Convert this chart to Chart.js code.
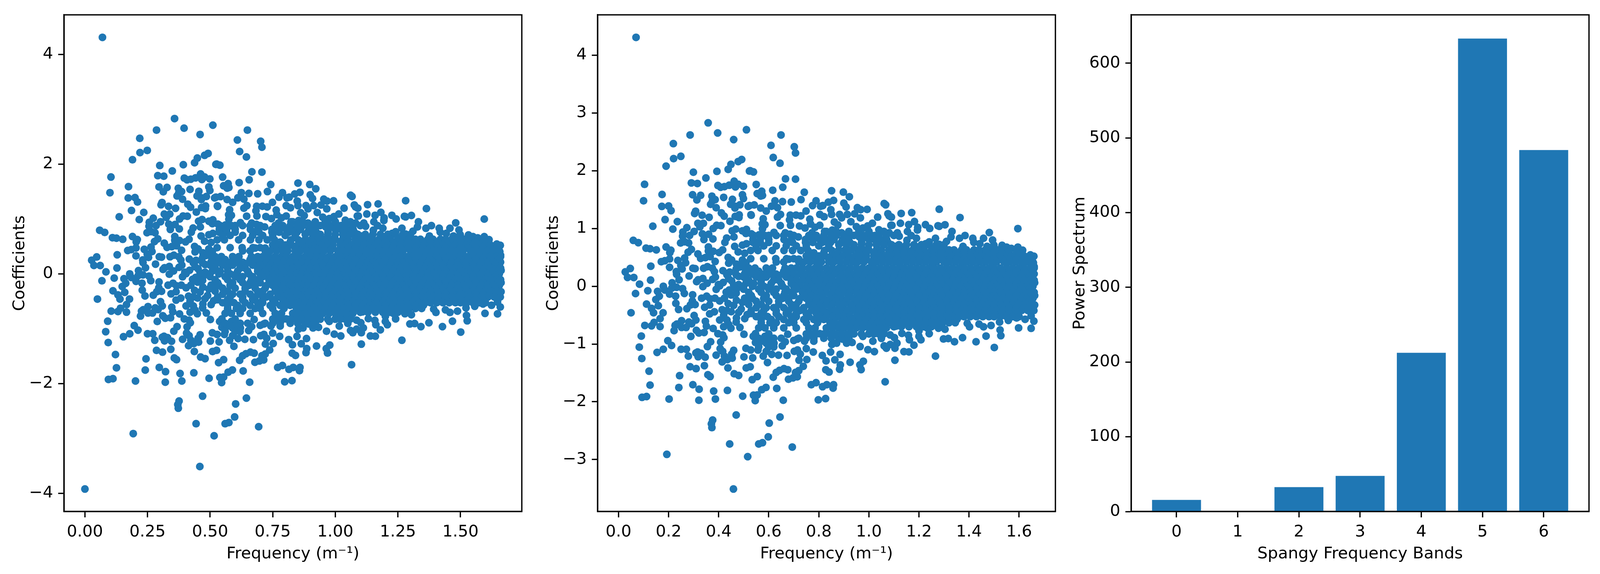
<!DOCTYPE html>
<html>
<head>
<meta charset="utf-8">
<title>Spangy spectrum</title>
<script src="https://cdn.jsdelivr.net/npm/chart.js@4/dist/chart.umd.min.js"></script>
<style>
  html, body { margin: 0; padding: 0; background: #fff; overflow: hidden; }
  canvas { position: absolute; top: 0; }
</style>
</head>
<body>
<canvas id="scatterA"></canvas>
<canvas id="scatterB"></canvas>
<canvas id="bands"></canvas>
<script>
// points that can be told apart in the picture: [frequency, coefficient]
const lowestPoint = [0, -3.92];
const sparsePoints = [
  [.07,4.31],[.459,-3.51],[.193,-2.91],[.516,-2.95],
  [.358,2.83],[.396,2.655],[.511,2.71],[.286,2.62],[.46,2.54],[.219,2.47],[.249,2.25],[.22,2.21],[.19,2.08],
  [.492,2.195],[.478,2.16],[.449,2.11],[.438,2.025],[.299,1.975],[.393,1.99],[.523,1.995],[.349,1.875],
  [.291,1.79],[.315,1.78],[.104,1.765],[.397,1.745],[.408,1.715],[.423,1.725],[.442,1.75],[.462,1.82],
  [.467,1.72],[.478,1.765],[.499,1.73],[.174,1.59],[.1,1.48],[.296,1.585],[.328,1.575],[.313,1.495],
  [.373,1.56],[.386,1.5],[.375,1.48],[.368,1.42],[.39,1.36],[.42,1.54],[.455,1.505],[.495,1.585],[.499,1.52],
  [.448,1.42],[.466,1.385],[.485,1.41],[.465,1.355],[.518,1.385],[.173,1.383],[.2,1.39],[.21,1.31],[.308,1.3],
  [.304,1.26],[.334,1.23],[.362,1.195],[.411,1.27],[.422,1.215],[.482,1.237],[.466,1.21],[.481,1.19],
  [.445,1.125],[.53,1.23],[.186,1.155],[.235,1.12],[.137,1.04],[.217,.99],[.317,1.09],[.339,1.09],[.325,1.03],
  [.378,1],[.392,1.055],[.409,1.05],[.273,1.015],[.257,.94],[.302,.95],[.284,.88],[.256,.867],[.335,.907],
  [.36,.9],[.341,.81],[.377,.82],[.454,.96],[.468,.99],[.495,.96],[.511,.985],[.461,.855],[.432,.835],[.425,.76],
  [.509,.915],[.059,.795],[.079,.755],[.11,.66],[.126,.65],[.151,.63],[.19,.68],[.209,.625],[.205,.583],
  [.248,.75],[.28,.75],[.264,.77],[.291,.638],[.278,.59],[.317,.56],[.359,.68],[.359,.61],[.378,.607],[.402,.584],
  [.416,.63],[.328,.483],[.347,.497],[.366,.513],[.386,.43],[.438,.5],[.464,.69],[.478,.595],[.495,.713],[.511,.737],
  [.452,.454],[.471,.383],[.495,.454],[.504,.572],[.204,.473],[.185,.442],[.171,.426],[.204,.329],[.237,.447],
  [.264,.489],[.268,.407],[.249,.36],[.254,.3],[.231,.254],[.232,.207],[.242,.112],[.282,.178],[.297,.312],
  [.306,.305],[.34,.312],[.355,.34],[.375,.312],[.383,.254],[.387,.16],[.376,.12],[.417,.27],[.444,.246],[.433,.2],
  [.452,.093],[.129,.348],[.128,.107],[.047,.308],[.027,.249],[.036,.154],[.061,.152],[.084,.037],[.179,0],
  [.214,.06],[.312,.081],[.337,.135],[.318,.112],[.354,.053],[.418,.065],[.399,.03],[.485,.336],[.504,.218],
  [.48,.171],[.509,.053],[.48,.03],[.509,.407],
  [.068,-.126],[.117,-.077],[.05,-.459],[.156,-.088],[.185,-.065],[.204,-.136],[.228,-.171],[.263,-.124],[.149,-.23],
  [.163,-.171],[.112,-.308],[.132,-.383],[.14,-.459],[.159,-.336],[.178,-.459],[.166,-.56],[.142,-.626],[.105,-.678],
  [.132,-.685],[.166,-.697],[.229,-.296],[.24,-.402],[.273,-.388],[.296,-.147],[.295,-.254],[.306,-.317],[.287,-.324],
  [.332,-.206],[.352,-.171],[.366,-.218],[.364,-.324],[.344,-.364],[.364,-.478],[.383,-.442],[.302,-.506],[.309,-.584],
  [.292,-.65],[.281,-.62],[.252,-.596],[.233,-.654],[.226,-.678],[.222,-.768],[.252,-.713],[.27,-.713],[.347,-.607],
  [.351,-.69],[.378,-.73],[.311,-.763],[.321,-.808],[.342,-.8],[.289,-.867],[.397,-.82],[.416,-.843],[.421,-.89],
  [.408,-.966],[.368,-.961],[.355,-1.044],[.406,-1.079],[.416,-1.126],[.39,-1.192],[.423,-1.209],[.435,-1.268],
  [.414,-1.308],[.454,-1.244],[.452,-1.174],[.46,-1.11],[.509,-1.074],[.501,-1.223],[.51,-1.414],[.437,-1.414],
  [.462,-1.515],[.48,-1.544],[.197,-.942],[.212,-1.025],[.179,-1.091],[.154,-1.145],[.091,-.862],[.083,-1.053],
  [.093,-1.251],[.122,-1.47],[.126,-1.711],[.094,-1.923],[.112,-1.909],[.202,-1.952],[.241,-1.753],[.244,-1.548],
  [.25,-1.091],[.271,-1.091],[.279,-1.209],[.309,-1.155],[.316,-1.138],[.33,-1.162],[.318,-1.22],[.346,-1.228],
  [.343,-1.374],[.286,-1.393],[.31,-1.426],[.357,-1.532],[.366,-1.563],[.297,-1.704],[.322,-1.782],[.321,-1.973],
  [.38,-1.815],[.387,-1.952],[.435,-1.803],[.496,-1.902],[.47,-2.228],[.376,-2.317],[.371,-2.381],[.373,-2.447],
  [.444,-2.73],[.385,-.206],[.404,-.254],[.423,-.206],[.438,-.3],[.433,-.419],[.414,-.407],[.404,-.584],[.433,-.584],
  [.449,-.725],[.471,-.242],[.495,-.277],[.49,-.395],[.471,-.548],[.504,-.206],[.504,-.56],[.485,-.713],[.501,-.831],
  [.514,-.49],[.337,-.006],[.39,-.053],[.442,-.065],[.471,-.053],[.499,-.006],[.404,.006],[.232,-.018],[.256,-.041],[.213,-.03],
  [.649,2.62],[.609,2.44],[.702,2.416],[.707,2.308],[.618,2.23],[.645,2.13],[.526,2],[.539,1.98],[.667,1.86],[.707,1.855],
  [.55,1.763],[.656,1.715],[.616,1.663],[.572,1.645],[.554,1.605],[.575,1.574],[.568,1.563],[.742,1.628],[.729,1.5],
  [.851,1.654],[.898,1.63],[.922,1.55],[.625,1.48],[.655,1.466],[.69,1.459],[.789,1.48],[.775,1.397],[.807,1.386],
  [.816,1.397],[.838,1.456],[.859,1.487],[.9,1.44],[.909,1.374],[.954,1.362],[.967,1.327],[.993,1.331],[1.061,1.433],
  [1.067,1.41],[1.076,1.256],[1.081,1.22],[1.035,1.197],[.542,1.409],[.523,1.397],[.568,1.355],[.59,1.303],[.611,1.386],
  [.635,1.362],[.647,1.244],[.635,1.197],[.529,1.239],[.578,1.169],[.574,1.079],[.585,1.067],[.575,.996],[.646,1.051],
  [.687,1.055],[.686,1.232],[.683,1.15],[.709,1.232],[.728,1.22],[.749,1.303],[.764,1.162],[.723,1.044],[.745,1.008],
  [.767,1.079],[.804,1.244],[.821,1.204],[.848,1.327],[.851,1.244],[.862,1.114],[.876,1.062],[.883,1.244],[.891,1.185],
  [.914,1.244],[.943,1.256],[.966,1.185],[.928,1.119],[1.014,1.091],[.95,1.032],[.976,1.008],[.995,1.044],[1.04,.978],
  [1.088,1.055],[.854,.973],[.823,.949],[.804,1.055],[.785,1.02],[.621,.933],[.531,.907],[.561,.89],[.585,.879],[.666,.926],
  [.685,.902],[.718,.855],[.773,.926],[.891,.926],[.914,.902],[.962,.855],[1.024,.879],[1.066,.807],[1.081,.926],
  [.537,.76],[.566,.76],[.6,.76],[.676,.76],[.695,.76],[.747,.76],[.776,.76],[.814,.76],[.847,.76],[.89,.76],[.924,.76],
  [.971,.76],[1.043,.76],[1.076,.76],[.528,.62],[.557,.62],[.614,.62],[.661,.62],[.695,.62],[.728,.62],[.757,.62],
  [.823,.62],[.852,.62],[.528,.478],[.58,.478],[.628,.478],[.671,.478],[.7,.478],
  [.537,.81],[.566,.81],[.6,.81],[.661,.81],[.69,.81],[.747,.81],[.776,.81],[.804,.81],[.828,.81],[.861,.81],[.895,.81],
  [.919,.81],[.971,.81],[1,.81],[1.023,.81],[1.047,.81],[1.071,.81],
  [.595,-1.32],[.526,-1.393],[.536,-1.239],[.554,-1.563],[.534,-1.617],[.589,-1.751],[.572,-1.791],[.632,-1.768],
  [.554,-1.881],[.539,-1.886],[.546,-1.98],[.658,-1.973],[.645,-2.263],[.602,-2.369],[.598,-2.607],[.575,-2.709],
  [.56,-2.73],[.694,-2.784],[.618,-1.574],[.63,-1.492],[.643,-1.456],[.661,-1.426],[.676,-1.445],[.679,-1.61],[.697,-1.586],
  [.714,-1.567],[.707,-1.492],[.72,-1.461],[.738,-1.386],[.721,-1.279],[.752,-1.268],[.726,-1.174],[.702,-1.126],
  [.715,-1.103],[.673,-1.197],[.639,-1.192],[.612,-1.178],[.578,-1.209],[.75,-1.079],[.778,-1.138],[.814,-1.197],
  [.829,-1.292],[.864,-1.273],[.885,-1.178],[.847,-1.138],[.852,-1.008],[.871,-.985],[.886,-1.362],[.883,-1.435],
  [.828,-1.445],[.841,-1.485],[.925,-1.315],[.978,-1.298],[.964,-1.362],[.969,-1.442],[1.065,-1.654],[.77,-1.704],
  [.789,-1.669],[.815,-1.739],[.832,-1.704],[.859,-1.704],[.857,-1.763],[.798,-1.966],[.827,-1.945],[.911,-.985],
  [.933,-.973],[.965,-1.044],[.996,-1.098],[1.022,-1.131],[1.016,-.95],[1.05,-.902],[1.061,-1.032],[1.07,-1.072],
  [1.085,-1.008],[.743,-.95],[.78,-.95],[.7,-.938],[.714,-.914],[.654,-1.032],[.666,-.961],[.538,-.867],[.547,-.973],
  [.566,-.961],[.59,-.985],[.621,-.985],[.528,-1.103],[.557,-1.103],[.59,-1.126],[.547,-.82],[.585,-.867],[.609,-.926],
  [.676,-.831],[.895,-.914],[.828,-.82],[.852,-.843],[.804,-.82],[.761,-.843],[.923,-.843],[.976,-.867],[1,-.82],
  [1.038,-.82],[1.061,-.82],[1.085,-.843],
  [1.281,1.334],[1.364,1.19],[1.129,1.261],[1.171,1.275],[1.595,.999],[1.126,1.091],[1.09,1.197],[1.092,1.055],
  [1.159,1.067],[1.182,1.121],[1.195,1.02],[1.194,.973],[1.226,1.067],[1.243,1.001],[1.276,1.048],[1.281,1.039],
  [1.304,1.065],[1.332,.949],[1.328,.855],[1.31,.777],[1.362,.831],[1.384,.879],[1.415,.831],[1.419,.761],[1.458,.831],
  [1.481,.93],[1.494,.8],[1.499,.714],[1.532,.709],[1.55,.678],[1.569,.655],[1.595,.678],[1.614,.624],[1.543,.619],
  [1.645,.544],[1.659,.52],[1.657,.407],[1.66,.341],[1.66,.214],[1.662,.062],[1.114,.926],[1.121,.867],[1.154,.949],
  [1.169,.879],[1.19,.831],[1.152,.796],[1.241,.768],[1.227,.737],[1.266,.831],[1.281,.725],[1.257,.643],[1.376,.69],
  [1.388,.607],[1.419,.619],[1.443,.737],[1.472,.69],[1.105,.69],[1.138,.643],[1.186,.69],[1.219,.667],
  [1.266,-1.209],[1.104,-1.28],[1.14,-1.131],[1.16,-1.136],[1.18,-1.02],[1.162,-.926],[1.158,-.848],[1.132,-.815],
  [1.208,-.926],[1.241,-.82],[1.102,-.89],[1.112,-.985],[1.104,-1.072],[1.278,-.725],[1.304,-.744],[1.298,-.912],
  [1.317,-.905],[1.342,-.961],[1.374,-.89],[1.428,-.961],[1.468,-.862],[1.501,-1.06],[1.527,-.855],[1.524,-.756],
  [1.598,-.72],[1.648,-.728],[1.659,-.603],[1.557,-.59],[1.59,-.548],[1.624,-.572],[1.402,-.702],[1.393,-.643],
  [1.458,-.702],[1.44,-.655],[1.488,-.678],[1.522,-.619],[1.352,-.572],[1.328,-.584],[1.109,-.69],[1.162,-.678],
  [1.2,-.772],[1.2,-.867],[1.234,-.725],[1.648,-.513],[1.662,-.324],[1.662,-.16],[1.659,-.42],
  // softer edges round the core
  [.87,.88],[.9,.88],[.94,.88],[.98,.88],[1.01,.88],[1.04,.88],[1.07,.88],[1.1,.88],
  [.83,.95],[.87,.95],[.92,.95],[.96,.95],[1,.95],[1.06,.95],
  [.54,.88],[.58,.88],[.6,.88],[.63,.88],[.66,.88],[.7,.88],[.76,.88],[.79,.88],[.82,.88],[.85,.88],
  [.55,.7],[.58,.7],[.63,.7],[.67,.7],[.71,.7],[.75,.7],[.8,.7],[.84,.7],
  [.97,-.825],[1,-.825],[1.02,-.825],[1.05,-.825],
  [.56,-.9],[.58,-.9],[.62,-.9],[.65,-.9],[.72,-.9],[.75,-.9],[.78,-.9],[.82,-.9],[.85,-.9],[.88,-.9],[.92,-.9],
  [.56,-1.05],[.6,-1.05],[.62,-1.05],
  [1.1,-.7],[1.13,-.7],[1.16,-.7],[1.19,-.7],[1.22,-.7],[1.25,-.7],[1.28,-.7],
  [.44,.4],[.47,.3],[.5,.33],[.44,.13],[.47,.2],[.43,-.1],[.46,.02],[.45,-.15],[.47,-.12],[.46,-.33],[.42,-.5],[.45,-.44],
  [.47,-.62],[.44,-.66],[.48,-.45],[.42,-.7]
];

// the dense core cannot be resolved into single points in the picture,
// so these are placed by eye, row by row, to cover the same solid area
const coreCoefs = [.72, .63, .58, .525, .47, .42, .315, .26, .21, .16, .105, .05, 0, -.05, -.105, -.16, -.21, -.26, -.315, -.37, -.42, -.47, -.525, -.575, -.63, -.72, -.825];
const coreFreqs = [
  [.88,.91,.94,.97,1,1.03,1.06,1.09,1.12,1.15,1.18,1.21,1.24,1.27,1.3],
  [.88,.905,.93,.955,.98,1,1.03,1.05,1.08,1.1,1.125,1.15,1.175,1.2,1.22,1.25,1.27,1.295,1.32,1.34,1.37,1.39,1.42,1.44,1.465,1.49,1.515,1.54],
  [.78,.82,.87,.91,.96,.99,1.02,1.05,1.08,1.11,1.14,1.17,1.2,1.23,1.26,1.29,1.32,1.35,1.38,1.41,1.44,1.47,1.5,1.53,1.56,1.59],
  [.75,.775,.8,.825,.85,.87,.895,.92,.945,.97,.99,1.02,1.04,1.065,1.09,1.115,1.14,1.16,1.19,1.21,1.235,1.26,1.285,1.31,1.33,1.355,1.38,1.405,1.43,1.45,1.48,1.5,1.525,1.55,1.57,1.6,1.62],
  [.68,.72,.76,.8,.84,.88,.92,.96,.99,1.02,1.05,1.08,1.11,1.14,1.17,1.2,1.23,1.26,1.29,1.32,1.35,1.38,1.41,1.44,1.47,1.5,1.53,1.56,1.59,1.62,1.645],
  [.63,.66,.72,.74,.765,.79,.81,.84,.86,.885,.91,.935,.955,.98,1.01,1.03,1.055,1.08,1.105,1.125,1.15,1.175,1.2,1.225,1.25,1.27,1.3,1.32,1.345,1.37,1.39,1.415,1.44,1.465,1.49,1.51,1.54,1.56,1.585,1.61,1.63,1.655],
  [.52,.545,.59,.615,.665,.69,.71,.735,.76,.785,.805,.83,.855,.88,.9,.925,.95,.975,1,1.02,1.045,1.07,1.095,1.12,1.14,1.165,1.19,1.215,1.24,1.26,1.285,1.31,1.335,1.36,1.38,1.405,1.43,1.455,1.48,1.5,1.525,1.55,1.575,1.6,1.62,1.645,1.66],
  [.53,.56,.6,.66,.69,.73,.77,.8,.84,.88,.92,.96,.99,1.02,1.05,1.08,1.11,1.14,1.17,1.2,1.23,1.26,1.29,1.32,1.35,1.38,1.41,1.44,1.47,1.5,1.53,1.56,1.59,1.62,1.65],
  [.51,.535,.56,.58,.605,.63,.655,.68,.7,.725,.75,.77,.795,.82,.845,.865,.89,.915,.94,.96,.985,1.01,1.035,1.055,1.08,1.105,1.13,1.15,1.175,1.2,1.225,1.25,1.27,1.295,1.32,1.345,1.37,1.39,1.415,1.44,1.465,1.49,1.51,1.535,1.56,1.585,1.61,1.63,1.655],
  [.5,.55,.59,.63,.67,.7,.74,.78,.82,.85,.89,.92,.95,.98,1.01,1.04,1.07,1.1,1.13,1.16,1.19,1.22,1.25,1.28,1.31,1.34,1.37,1.4,1.43,1.46,1.49,1.52,1.55,1.58,1.61,1.64],
  [.52,.57,.62,.64,.69,.71,.735,.76,.785,.805,.83,.855,.88,.9,.925,.95,.975,1,1.02,1.045,1.07,1.095,1.12,1.14,1.165,1.19,1.215,1.24,1.26,1.285,1.31,1.335,1.36,1.38,1.405,1.43,1.455,1.48,1.5,1.525,1.55,1.575,1.6,1.62,1.645,1.66],
  [.54,.57,.61,.65,.69,.72,.76,.79,.83,.87,.9,.93,.96,.99,1.02,1.05,1.08,1.11,1.14,1.17,1.2,1.23,1.26,1.29,1.32,1.35,1.38,1.41,1.44,1.47,1.5,1.53,1.56,1.59,1.62,1.65],
  [.535,.58,.605,.655,.7,.725,.75,.77,.795,.82,.845,.865,.89,.915,.94,.96,.985,1.01,1.035,1.055,1.08,1.105,1.13,1.15,1.175,1.2,1.225,1.25,1.27,1.295,1.32,1.345,1.37,1.39,1.415,1.44,1.465,1.49,1.51,1.535,1.56,1.585,1.61,1.63,1.655],
  [.5,.56,.6,.63,.67,.71,.75,.78,.82,.86,.89,.92,.95,.98,1.01,1.04,1.07,1.1,1.13,1.16,1.19,1.22,1.25,1.28,1.31,1.34,1.37,1.4,1.43,1.46,1.49,1.52,1.55,1.58,1.61,1.64],
  [.52,.57,.62,.665,.69,.735,.76,.785,.805,.83,.855,.88,.9,.925,.95,.975,1,1.02,1.045,1.07,1.095,1.12,1.14,1.165,1.19,1.215,1.24,1.26,1.285,1.31,1.335,1.36,1.38,1.405,1.43,1.455,1.48,1.5,1.525,1.55,1.575,1.6,1.62,1.645,1.66],
  [.53,.59,.63,.66,.7,.74,.77,.81,.85,.88,.92,.96,.99,1.02,1.05,1.08,1.11,1.14,1.17,1.2,1.23,1.26,1.29,1.32,1.35,1.38,1.41,1.44,1.47,1.5,1.53,1.56,1.59,1.62,1.65],
  [.535,.58,.655,.68,.725,.75,.77,.795,.82,.845,.865,.89,.915,.94,.96,.985,1.01,1.035,1.055,1.08,1.105,1.13,1.15,1.175,1.2,1.225,1.25,1.27,1.295,1.32,1.345,1.37,1.39,1.415,1.44,1.465,1.49,1.51,1.535,1.56,1.585,1.61,1.63,1.655],
  [.51,.55,.6,.64,.68,.72,.76,.79,.83,.87,.91,.95,.98,1.01,1.04,1.07,1.1,1.13,1.16,1.19,1.22,1.25,1.28,1.31,1.34,1.37,1.4,1.43,1.46,1.49,1.52,1.55,1.58,1.61,1.64],
  [.52,.57,.64,.69,.71,.76,.785,.805,.83,.855,.88,.9,.925,.95,.975,1,1.02,1.045,1.07,1.095,1.12,1.14,1.165,1.19,1.215,1.24,1.26,1.285,1.31,1.335,1.36,1.38,1.405,1.43,1.455,1.48,1.5,1.525,1.55,1.575,1.6,1.62,1.645],
  [.55,.59,.62,.66,.7,.74,.78,.81,.85,.89,.93,.96,.99,1.02,1.05,1.08,1.11,1.14,1.17,1.2,1.23,1.26,1.29,1.32,1.35,1.38,1.41,1.44,1.47,1.5,1.53,1.56,1.59,1.62],
  [.53,.58,.63,.68,.725,.77,.795,.82,.845,.865,.89,.915,.94,.96,.985,1.01,1.035,1.055,1.08,1.105,1.13,1.15,1.175,1.2,1.225,1.25,1.27,1.295,1.32,1.345,1.37,1.39,1.415,1.44,1.465,1.49,1.51,1.535,1.56,1.585,1.61,1.635],
  [.53,.57,.63,.67,.71,.75,.79,.83,.87,.91,.96,.99,1.02,1.05,1.08,1.11,1.14,1.17,1.2,1.23,1.26,1.29,1.32,1.35,1.38,1.41,1.44,1.47,1.5,1.53,1.56,1.59],
  [.55,.595,.64,.69,.71,.76,.805,.83,.855,.88,.9,.925,.95,.975,1,1.02,1.045,1.07,1.095,1.12,1.14,1.165,1.19,1.215,1.24,1.26,1.285,1.31,1.335,1.36,1.38,1.405,1.43,1.455,1.48,1.5,1.525,1.55,1.575,1.6],
  [.57,.61,.66,.7,.74,.78,.82,.86,.9,.93,.96,.99,1.02,1.05,1.08,1.11,1.14,1.17,1.2,1.23,1.26,1.29,1.32],
  [.57,.605,.63,.68,.7,.75,.795,.845,.865,.89,.915,.94,.96,.985,1.01,1.035,1.055,1.08,1.105,1.13,1.15,1.175,1.2,1.225,1.25,1.27,1.295,1.32,1.345],
  [.56,.585,.62,.66,.71,.76,.785,.83,.855,.88,.9,.925,.95,.975,1,1.02,1.045,1.07],
  [.6,.75,.775,.79,.82,.845,.865,.89,.915,.94]
];

const powerBands = [0, 1, 2, 3, 4, 5, 6];
const powerValues = [15.6, 0, 32.6, 47.7, 212.4, 633, 483.7];

const BLUE = '#1f77b4';
const FONT = { family: 'DejaVu Sans', size: 41.67 };

// the layout was measured on a 4470 wide picture, shrink it if the window is narrower
const fit = Math.min(1, window.innerWidth / 4470);

function toXY(pair) {
    return { x: pair[0], y: pair[1] };
}

function buildPoints() {
    const points = sparsePoints.map(toXY);
    coreFreqs.forEach(function (row, i) {
        row.forEach(function (freq) {
            points.push({ x: freq, y: coreCoefs[i] });
        });
    });
    return points;
}

// minus sign like the original tick labels
function tickText(value, decimals) {
    const text = Math.abs(value).toFixed(decimals);
    return value < 0 ? '\u2212' + text : text;
}

// top and right spines
const frame = {
    id: 'frame',
    afterDraw(chart) {
        const a = chart.chartArea, c = chart.ctx;
        c.save();
        c.strokeStyle = '#000';
        c.lineWidth = 3.33;
        c.strokeRect(a.left, a.top, a.right - a.left, a.bottom - a.top);
        c.restore();
    }
};

function axis(cfg) {
    return {
        type: 'linear',
        min: cfg.min,
        max: cfg.max,
        offset: false,
        afterFit(scale) {
            if (cfg.width) scale.width = cfg.width;
            if (cfg.height) scale.height = cfg.height;
        },
        border: { display: true, color: '#000', width: 3.33 },
        grid: { offset: false, drawOnChartArea: false, drawTicks: true, tickLength: 15, tickWidth: 3.33, tickColor: '#000' },
        ticks: {
            stepSize: cfg.step,
            includeBounds: false,
            autoSkip: false,
            maxRotation: 0,
            padding: 13,
            color: '#000',
            font: FONT,
            callback: function (v) { return tickText(v, cfg.decimals); }
        },
        title: {
            display: true,
            text: cfg.title,
            color: '#000',
            font: FONT,
            padding: cfg.titlePadding
        }
    };
}

function makeChart(id, left, type, dataset, xCfg, yCfg) {
    const canvas = document.getElementById(id);
    canvas.width = Math.round(1480 * fit);
    canvas.height = 1470;
    canvas.style.left = Math.round(left * fit) + 'px';
    xCfg.height = 160;
    yCfg.width = Math.round(179 * fit);
    return new Chart(canvas, {
        type: type,
        data: { datasets: [dataset] },
        plugins: [frame],
        options: {
            responsive: false,
            animation: false,
            devicePixelRatio: 1,
            layout: { padding: { top: 30, right: 22 * fit, left: 0, bottom: 0 } },
            plugins: { legend: { display: false }, tooltip: { enabled: false } },
            scales: { x: axis(xCfg), y: axis(yCfg) }
        }
    });
}

const allPoints = buildPoints();
const X_TITLE_PAD = { top: 0, bottom: 26 };

function scatterSet(points) {
    return { data: points, backgroundColor: BLUE, borderWidth: 0, pointRadius: 10, pointBorderWidth: 0 };
}

makeChart('scatterA', 0, 'scatter', scatterSet([toXY(lowestPoint)].concat(allPoints)),
    { min: -.0833, max: 1.745, step: .25, decimals: 2, title: 'Frequency (m\u207b\u00b9)', titlePadding: X_TITLE_PAD },
    { min: -4.33, max: 4.72, step: 2, decimals: 0, title: 'Coefficients', titlePadding: { top: 26, bottom: 0 } });

makeChart('scatterB', 1491, 'scatter', scatterSet(allPoints),
    { min: -.0833, max: 1.745, step: .2, decimals: 1, title: 'Frequency (m\u207b\u00b9)', titlePadding: X_TITLE_PAD },
    { min: -3.9, max: 4.7, step: 1, decimals: 0, title: 'Coefficients', titlePadding: { top: 26, bottom: 0 } });

makeChart('bands', 2982, 'bar', {
        data: powerBands.map(function (band, i) { return { x: band, y: powerValues[i] }; }),
        backgroundColor: BLUE,
        borderWidth: 0,
        barPercentage: .8,
        categoryPercentage: 1
    },
    { min: -.74, max: 6.74, step: 1, decimals: 0, title: 'Spangy Frequency Bands', titlePadding: X_TITLE_PAD },
    { min: 0, max: 664.7, step: 100, decimals: 0, title: 'Power Spectrum', titlePadding: { top: 8, bottom: 0 } });
</script>
</body>
</html>
